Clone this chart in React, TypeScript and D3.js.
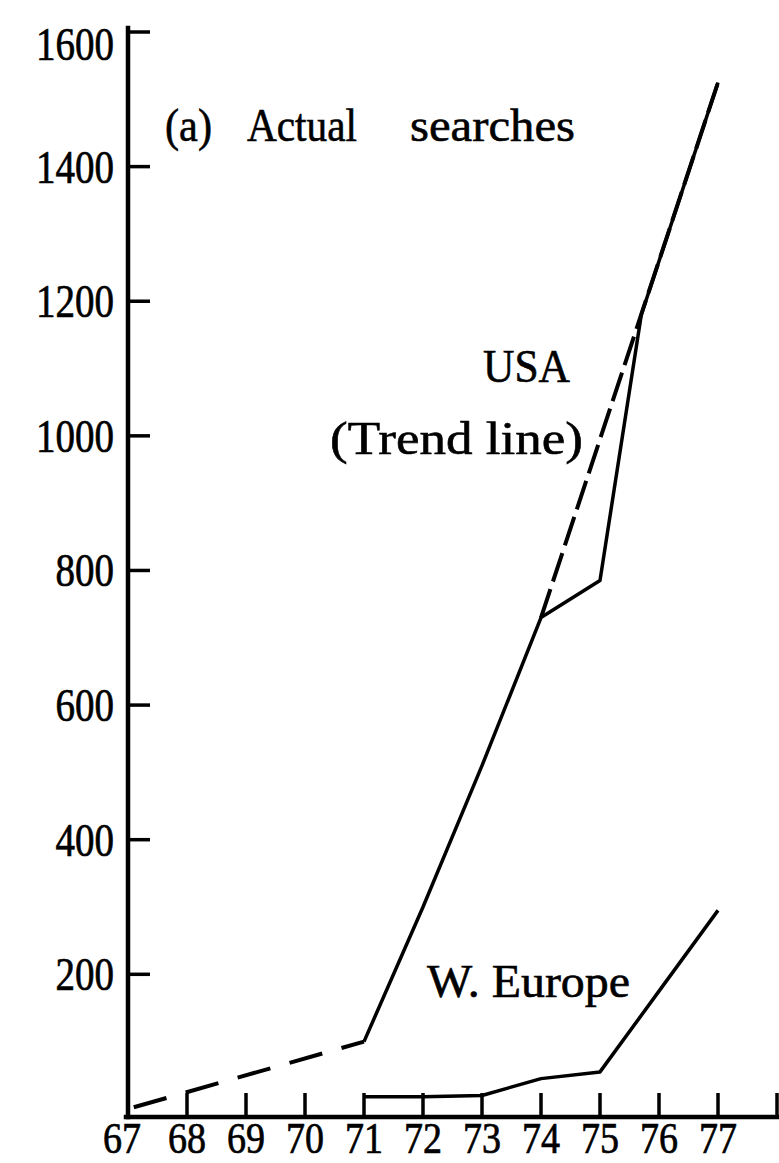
import React from "react";
import * as d3 from "d3";

const WIDTH = 779;
const HEIGHT = 1163;

// year ticks along the bottom (19xx); the last tick closes the axis, no label
const yearTicks = [68, 69, 70, 71, 72, 73, 74, 75, 76, 77, 78];
const yearLabels = [67, 68, 69, 70, 71, 72, 73, 74, 75, 76, 77];
const valueTicks = [200, 400, 600, 800, 1000, 1200, 1400, 1600];

// USA, actual searches (solid)
const usaYears = [71, 72, 73, 74, 75, 75.7, 77];
const usaValues = [100, 300, 510, 730, 785, 1180, 1525];

// USA trend line, dashed parts
const trendEarlyYears = [67, 71];
const trendEarlyValues = [0, 100];
const trendLateYears = [74, 77];
const trendLateValues = [730, 1525];

// W. Europe, actual searches
const euYears = [71, 72, 73, 74, 75, 76, 77];
const euValues = [18, 18, 20, 45, 55, 175, 295];

// the drawn x axis sits a little below the zero line of the scan
const AXIS_FLOOR = -12;

const FONT = "'Liberation Serif', 'DejaVu Serif', serif";

const zip = (xs: number[], ys: number[]): [number, number][] =>
  xs.map((v, i) => [v, ys[i]]);

export default function App() {
  const x = d3.scaleLinear().domain([67, 78]).range([128, 777]);
  const y = d3.scaleLinear().domain([AXIS_FLOOR, 1600]).range([1117, 32]);

  const line = d3
    .line<[number, number]>()
    .x((d) => x(d[0]))
    .y((d) => y(d[1]));

  const x0 = x(67);
  const y0 = y(AXIS_FLOOR);

  return (
    <svg
      width={WIDTH}
      height={HEIGHT}
      style={{ position: "absolute", left: 0, top: 0, background: "#fff" }}
      fontFamily={FONT}
    >
      {/* axes */}
      <g stroke="#000" strokeWidth={4.5} fill="none" strokeLinecap="square">
        <line x1={x0} y1={y0} x2={x0} y2={y(1600) - 4} />
        <line x1={x0 - 2} y1={y0} x2={x(78)} y2={y0} />
      </g>

      {/* y ticks point into the plot */}
      <g stroke="#000" strokeWidth={3.5}>
        {valueTicks.map((v) => (
          <line key={v} x1={x0} x2={x0 + 22} y1={y(v)} y2={y(v)} />
        ))}
      </g>
      <g fontSize={47} textAnchor="end" fill="#000" stroke="#000" strokeWidth={0.7}>
        {valueTicks.map((v) => (
          <text
            key={v}
            x={x0 - 14}
            y={y(v)}
            dy={v === 1600 ? "0.6em" : "0.34em"}
            textLength={String(v).length * 19.5}
            lengthAdjust="spacingAndGlyphs"
          >
            {v}
          </text>
        ))}
      </g>

      {/* x ticks point up */}
      <g stroke="#000" strokeWidth={3.5}>
        {yearTicks.map((t) => (
          <line key={t} x1={x(t)} x2={x(t)} y1={y0} y2={y0 - 24} />
        ))}
      </g>
      <g fontSize={45} textAnchor="middle" fill="#000" stroke="#000" strokeWidth={0.7}>
        {yearLabels.map((t) => (
          <text
            key={t}
            x={x(t) - (t === 67 ? 6 : 0)}
            y={1153}
            textLength={38}
            lengthAdjust="spacingAndGlyphs"
          >
            {t}
          </text>
        ))}
      </g>

      {/* series */}
      <g fill="none" stroke="#000" strokeLinejoin="round">
        <path
          d={line(zip(trendEarlyYears, trendEarlyValues)) ?? ""}
          strokeWidth={4}
          strokeDasharray="34 20"
          strokeDashoffset={-6}
        />
        <path
          d={line(zip(trendLateYears, trendLateValues)) ?? ""}
          strokeWidth={4}
          strokeDasharray="30 8"
        />
        <path d={line(zip(usaYears, usaValues)) ?? ""} strokeWidth={3.5} />
        <path d={line(zip(euYears, euValues)) ?? ""} strokeWidth={3.5} />
      </g>

      {/* annotations */}
      <g fontSize={47} fill="#000" stroke="#000" strokeWidth={0.6}>
        <text x={165} y={141} textLength={47} lengthAdjust="spacingAndGlyphs">
          (a)
        </text>
        <text x={247} y={141} textLength={110} lengthAdjust="spacingAndGlyphs">
          Actual
        </text>
        <text x={410} y={141} textLength={165} lengthAdjust="spacingAndGlyphs">
          searches
        </text>
        <text x={483} y={382} textLength={87} lengthAdjust="spacingAndGlyphs">
          USA
        </text>
        <text x={330} y={454} textLength={253} lengthAdjust="spacingAndGlyphs">
          (Trend line)
        </text>
        <text x={427} y={997} textLength={203} lengthAdjust="spacingAndGlyphs">
          W. Europe
        </text>
      </g>
    </svg>
  );
}
